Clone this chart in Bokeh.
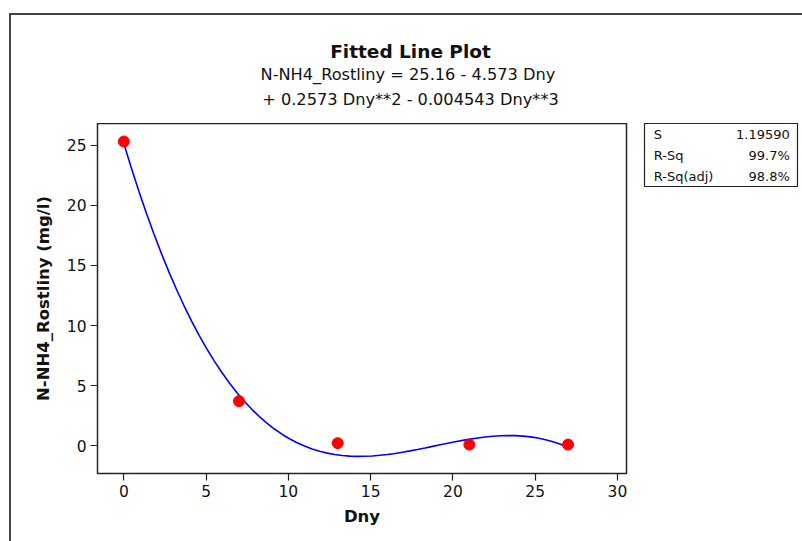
from bokeh.plotting import figure
from bokeh.layouts import row, column
from bokeh.models import Range1d, FixedTicker, ColumnDataSource, Spacer
from bokeh.core.properties import value
from bokeh.embed import file_html
from bokeh.resources import INLINE
import numpy as np

# observed data
dny = [0, 7, 13, 21, 27]
nh4 = [25.33, 3.7, 0.2, 0.08, 0.08]

# cubic fit coefficients b0..b3
coef = [25.16, -4.573, 0.2573, -0.004543]

x_ticks = [0, 5, 10, 15, 20, 25, 30]
y_ticks = [0, 5, 10, 15, 20, 25]

title_text = "Fitted Line Plot"
eq_lines = ["N-NH4_Rostliny =  25.16 - 4.573 Dny",
            "+ 0.2573 Dny**2 - 0.004543 Dny**3"]

stat_names = ["S", "R-Sq", "R-Sq(adj)"]
stat_values = ["1.19590", "99.7%", "98.8%"]

FONT = "DejaVu Sans"
INK = "#111111"

# page geometry
OX, OY = 11, 15            # inner corner of the outer panel border
PAGE_W, PAGE_H = 802, 541
HEAD_H = 108
BODY_H = PAGE_H - OY - HEAD_H
MAIN_W = 625
SIDE_W = PAGE_W - OX - MAIN_W
BOX_L, BOX_R, BOX_H = 644, 797, 64


def bare(fig):
    fig.grid.visible = False
    fig.axis.visible = False
    fig.outline_line_color = None
    fig.background_fill_color = "white"
    fig.border_fill_color = "white"


# --- heading --------------------------------------------------------------
head = figure(width=PAGE_W - OX, height=HEAD_H, output_backend="svg",
              toolbar_location=None, x_range=Range1d(0, PAGE_W - OX),
              y_range=Range1d(HEAD_H, 0), min_border=0)
bare(head)
cx = 410 - OX
head.text(x=[cx], y=[51 - OY], text=[title_text], text_font=value(FONT),
          text_font_style="bold", text_font_size="18.5px", text_align="center",
          text_baseline="middle", text_color=INK)
head.text(x=[cx, cx], y=[74 - OY, 99 - OY], text=eq_lines, text_font=value(FONT),
          text_font_size="16.2px", text_align="center", text_baseline="middle",
          text_color=INK)

# --- main fitted-line plot -------------------------------------------------
p = figure(width=MAIN_W, height=BODY_H, output_backend="svg", toolbar_location=None,
           x_range=Range1d(-1.6, 30.55), y_range=Range1d(-2.33, 26.83),
           min_border_left=97 - OX, min_border_right=OX + MAIN_W - 626,
           min_border_top=0, min_border_bottom=PAGE_H - 473)
p.grid.visible = False
p.outline_line_color = "#222222"
p.outline_line_width = 1.5
p.border_fill_color = "white"

for ax, ticks in ((p.xaxis, x_ticks), (p.yaxis, y_ticks)):
    ax.ticker = FixedTicker(ticks=ticks)
    ax.axis_line_color = None
    ax.major_tick_in = 0
    ax.major_tick_out = 7
    ax.major_tick_line_color = "#222222"
    ax.major_tick_line_width = 1.2
    ax.minor_tick_line_color = None
    ax.major_label_standoff = 4
    ax.major_label_text_font = FONT
    ax.major_label_text_font_size = "15.5px"
    ax.major_label_text_color = INK
    ax.axis_label_text_font = FONT
    ax.axis_label_text_font_style = "bold"
    ax.axis_label_text_font_size = "16.5px"
    ax.axis_label_text_color = INK
p.yaxis.major_label_orientation = "horizontal"
p.xaxis.axis_label = "Dny"
p.yaxis.axis_label = "N-NH4_Rostliny (mg/l)"
p.xaxis.axis_label_standoff = 7
p.yaxis.axis_label_standoff = 11

xs = np.linspace(min(dny), max(dny), 60)
ys = sum(c * xs ** i for i, c in enumerate(coef))
p.line(xs, ys, line_color="#0000ff", line_width=1.6)
p.scatter(dny, nh4, size=11, color="#ff0000")

# --- summary statistics box -------------------------------------------------
n = len(stat_names)
side = figure(width=SIDE_W, height=BOX_H, output_backend="svg", toolbar_location=None,
              x_range=Range1d(0, 1), y_range=Range1d(n, 0),
              min_border_left=BOX_L - (OX + MAIN_W), min_border_right=PAGE_W - BOX_R,
              min_border_top=0, min_border_bottom=0)
bare(side)
side.outline_line_color = "#222222"
side.outline_line_width = 1.2
rows = np.arange(n) + 0.5
stats = ColumnDataSource(dict(row=rows, name=stat_names, val=stat_values))
side.text(x=0.06, y="row", text="name", source=stats, text_font=value(FONT),
          text_font_size="13px", text_baseline="middle", text_color=INK)
side.text(x=0.95, y="row", text="val", source=stats, text_font=value(FONT),
          text_font_size="13px", text_baseline="middle", text_align="right",
          text_color=INK)

side_col = column(side, Spacer(width=SIDE_W, height=BODY_H - BOX_H), spacing=0)

page = column(head, row(p, side_col, spacing=0), spacing=0,
              margin=(OY - 2, 0, 0, OX - 2),
              styles={"border-left": "2px solid #444444", "border-top": "2px solid #444444"})

open("out.html", "w").write(file_html(page, INLINE))
